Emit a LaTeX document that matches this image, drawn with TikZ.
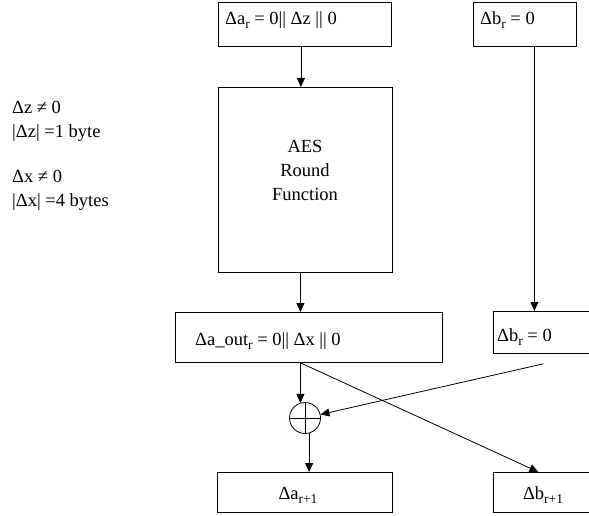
\documentclass[tikz,border=0pt]{standalone}
\usepackage{fontspec}
\setmainfont{Liberation Serif}
\usetikzlibrary{arrows.meta}
\newcommand\subr[1]{\raisebox{-4bp}{\fontsize{13.5bp}{13.5bp}\selectfont #1}}
\begin{document}
\begin{tikzpicture}[x=1bp,y=-1bp,
  box/.style={draw, line width=0.8bp, inner sep=0pt, anchor=north west},
  txt/.style={inner sep=0pt, anchor=base west, font=\fontsize{18.5bp}{24bp}\selectfont},
  arr/.style={draw, line width=0.8bp, -{Triangle[length=9bp,width=8bp]}},
  ln/.style={draw, line width=0.8bp}]
\useasboundingbox (0,0) rectangle (589,516);
\clip (0,0) rectangle (589,516);

% boxes
\node[box, minimum width=173bp, minimum height=44bp] (A) at (218,2) {};
\node[txt] (At) at (225,25) {Δa\subr{r} = 0|| Δz || 0};

\node[box, minimum width=103bp, minimum height=44bp] (B) at (473,2) {};
\node[txt] (Bt) at (480,25) {Δb\subr{r} = 0};

\node[box, minimum width=174bp, minimum height=185bp] (AES) at (218,87) {};
\node[txt, anchor=center, align=center] (AESt) at (305,170) {AES\\Round\\Function};

\node[box, minimum width=267bp, minimum height=50bp] (aout) at (175,312) {};
\node[txt] (aoutt) at (195,345) {Δa\_out\subr{r} = 0|| Δx || 0};

\node[box, minimum width=100bp, minimum height=42bp] (br) at (493,311) {};
\node[txt] (brt) at (497,341) {Δb\subr{r} = 0};

\node[box, minimum width=175bp, minimum height=40bp] (ar1) at (217,472) {};
\node[txt, anchor=base] (ar1t) at (298,499) {Δa\subr{r+1}};

\node[box, minimum width=100bp, minimum height=40bp] (br1) at (493,472) {};
\node[txt, anchor=base] (br1t) at (543,499) {Δb\subr{r+1}};

% notes
\node[txt] (n1) at (12,114) {Δz ≠ 0};
\node[txt] (n2) at (12,138) {|Δz| =1 byte};
\node[txt] (n3) at (12,183) {Δx ≠ 0};
\node[txt] (n4) at (12,207) {|Δx| =4 bytes};

% xor
\node[draw, circle, minimum size=31bp, inner sep=0pt, line width=0.8bp] (X) at (305,418) {};
\draw[ln] (X.north) -- (X.south);
\draw[ln] (X.west) -- (X.east);

% connectors
\draw[arr] ([xshift=-4bp]A.south) -- ([xshift=-4bp]A.south |- AES.north);
\draw[arr] ([xshift=-5bp]AES.south) -- ([xshift=-5bp]AES.south |- aout.north);
\draw[arr] ([xshift=9.5bp]B.south) -- ([xshift=9.5bp]B.south |- br.north);
\draw[arr] ([xshift=-8.5bp]aout.south) -- ([xshift=-8.5bp]aout.south |- X.109);
\draw[arr] (X.285) -- (X.285 |- ar1.north);
\draw[arr] ([xshift=-8.5bp]aout.south) -- ([xshift=-5bp]br1.north);
\coordinate (brs) at ([yshift=-10bp]br.south);
\draw[arr] (brs) -- (X);
\end{tikzpicture}
\end{document}
